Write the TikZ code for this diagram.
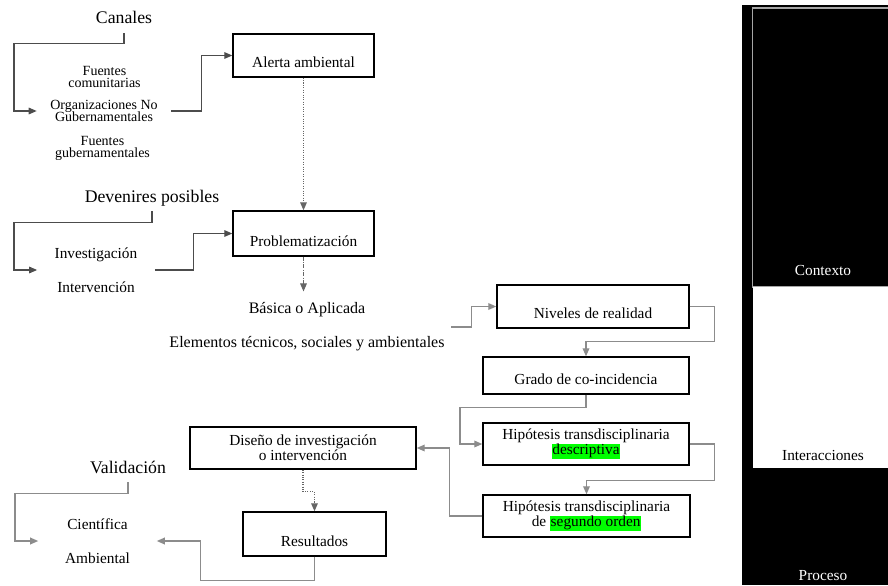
\documentclass[tikz,border=0pt]{standalone}
\usepackage{fontspec}
\setmainfont{Liberation Serif}
\usetikzlibrary{arrows.meta,calc}
\definecolor{verde}{RGB}{0,255,0}
\newcommand{\resalta}[1]{{\setlength{\fboxsep}{0.5pt}\colorbox{verde}{#1}}}
\newcommand{\apretado}{\setlength{\lineskiplimit}{-5pt}}
\tikzset{>={Triangle[length=6pt,width=5pt]}}
\tikzset{
  caja/.style={draw, line width=1.1pt, inner sep=0pt, align=center,
    font={\fontsize{11.5}{11.25}\selectfont\apretado}},
  cajauna/.style={caja, text depth=6.8pt},
  titulo/.style={inner xsep=0pt, inner ysep=6.75pt, text depth=0pt, font={\fontsize{13.3}{16}\selectfont}},
  chico/.style={align=center, inner sep=0pt, font={\fontsize{10.5}{9}\selectfont\apretado}},
  grupo/.style={align=center, inner ysep=0pt, font={\fontsize{11.5}{25.5}\selectfont}},
  panel/.style={anchor=base, font={\fontsize{11.5}{14}\selectfont}},
  flecha/.style={->, draw=black!70, line width=0.8pt},
  flechagris/.style={->, draw=black!45, line width=1pt},
  punteado/.style={->, draw=black!60, line width=0.8pt, densely dotted},
  rayapunto/.style={->, draw=black!60, line width=0.8pt, densely dash dot},
}

\begin{document}
\begin{tikzpicture}[x=0.75pt, y=-0.75pt]
  \useasboundingbox (0,0) rectangle (888,585);

  % Panel
  \fill[black] (742,5) rectangle (888,585);
  \draw[gray!70, line width=0.8pt, fill=black] (752.5,8) rectangle (892,287);
  \fill[white] (753,287) rectangle (888,468);
  \node[panel, text=white] (ctx) at (823,275) {Contexto};
  \node[panel] (inter) at (823,460) {Interacciones};
  \node[panel, text=white] (proc) at (823,580) {Proceso};

  % Cajas
  \node[cajauna, minimum width=105.75pt, text height=25.4pt] (alerta) at (303.5,55.5) {Alerta ambiental};
  \node[cajauna, minimum width=105.75pt, text height=26.9pt] (probl) at (303.5,233.5) {Problematización};
  \node[cajauna, minimum width=144pt, text height=25.4pt] (nivel) at (593,306.5) {Niveles de realidad};
  \node[cajauna, minimum width=154.5pt, text height=20.9pt] (grado) at (586,375.5) {Grado de co-incidencia};
  \node[caja, minimum width=154.5pt, minimum height=31.5pt] (hip1) at (586,444) {Hipótesis transdisciplinaria\\\resalta{descriptiva}};
  \node[caja, minimum width=155.25pt, minimum height=31.5pt] (hip2) at (586.5,516) {Hipótesis transdisciplinaria\\de \resalta{segundo orden}};
  \node[caja, minimum width=169.5pt, minimum height=31.5pt] (dis) at (303,448) {Diseño de investigación\\o intervención};
  \node[cajauna, minimum width=107.25pt, text height=26.2pt] (res) at (314.5,534) {Resultados};

  % Textos
  \node[titulo, anchor=base] (can) at (124,24) {Canales};
  \node[chico] (fcom) at (104.5,76.5) {Fuentes\\comunitarias};
  \node[chico, inner xsep=10pt] (ong) at (104,111) {Organizaciones No\\Gubernamentales};
  \node[chico] (fgub) at (102.5,148.5) {Fuentes\\gubernamentales};

  \node[titulo, anchor=base] (dev) at (152,202) {Devenires posibles};
  \node[grupo, inner xsep=13pt] (inv) at (96,270) {Investigación\\Intervención};
  \node[grupo, inner xsep=5pt, inner ysep=8.25pt, font={\fontsize{12}{25.5}\selectfont}] (bas) at (307,327) {Básica o Aplicada\\Elementos técnicos, sociales y ambientales};

  \node[titulo, anchor=base] (val) at (128,473) {Validación};
  \node[grupo, inner xsep=20pt] (cien) at (97.5,541) {Científica\\Ambiental};

  % Conectores
  \draw[flecha] (can.south) -- ++(0,10) -- ++(-110,0) |- (ong.west);
  \draw[flecha] (ong.east) -- ++(30,0) |- (alerta.west);
  \draw[punteado] (alerta) -- (probl);
  \draw[flecha] (dev.south) -- ++(0,11) -- ++(-138,0) |- (inv.west);
  \draw[flecha] (inv.east) -- ++(39,0) |- (probl.west);
  \draw[rayapunto] (probl.south) -- (probl.south |- bas.north);
  \draw[flechagris] (bas.east) -- ++(20,0) |- (nivel.west);
  \draw[flechagris] (nivel.east) -- ++(25,0) |- ($(grado.north)+(0,-15)$) -- (grado.north);
  \draw[flechagris] (grado.south) -- ++(0,13) -- ++(-126,0) |- (hip1.west);
  \draw[flechagris] (hip1.east) -- ++(25,0) |- ($(hip2.north)+(0,-14)$) -- (hip2.north);
  \draw[flechagris] (hip2.west) -- ++(-33,0) |- (dis.east);
  \draw[punteado] (dis.south) -- ++(0,22) -| (res.north);
  \draw[flechagris] (res.south) -- ++(0,24) -- ++(-114,0) |- (cien.east);
  \draw[flechagris] (val.south) -- ++(0,11) -- ++(-113,0) |- (cien.west);
\end{tikzpicture}
\end{document}
